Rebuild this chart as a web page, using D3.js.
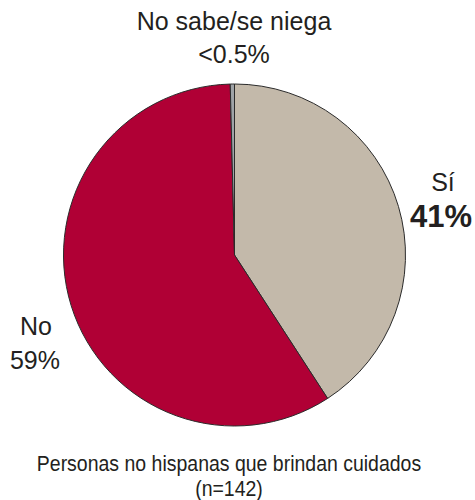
<!DOCTYPE html>
<html>
<head>
<meta charset="utf-8">
<script src="https://cdn.jsdelivr.net/npm/d3@7"></script>
<style>
  html, body { margin: 0; padding: 0; background: #fff; }
  svg { display: block; }
  text { font-family: "Liberation Sans", Arial, sans-serif; fill: #231f20; }
</style>
</head>
<body>
<svg id="chart" width="475" height="500"></svg>
<script>
// Caregiver answers, in drawing order (clockwise from 12 o'clock)
const categories = ["Sí", "No", "No sabe/se niega"];
const values = [41, 59, 0.4];
const valueLabels = ["41%", "59%", "<0.5%"];
const colors = ["#c3b9aa", "#b00035", "#9fa3a7"];
const caption = ["Personas no hispanas que brindan cuidados", "(n=142)"];

const svg = d3.select("#chart");
const cx = 234.5, cy = 255, r = 171;

const pie = d3.pie().sort(null).value(d => d)(values);
const arc = d3.arc().innerRadius(0).outerRadius(r);

const g = svg.append("g").attr("transform", `translate(${cx},${cy})`);
g.selectAll("path")
  .data(pie)
  .join("path")
  .attr("d", arc)
  .attr("fill", (d, i) => colors[i])
  .attr("stroke", "#2b2b2b")
  .attr("stroke-width", 1)
  .attr("stroke-linejoin", "round");

// Slice labels
const lab = svg.append("g");
// Sí
lab.append("text").attr("x", 443).attr("y", 191).attr("text-anchor", "middle")
  .attr("font-size", 25).text(categories[0]);
lab.append("text").attr("x", 441).attr("y", 227).attr("text-anchor", "middle")
  .attr("font-size", 31).attr("font-weight", "bold").attr("font-family", "'DejaVu Sans', sans-serif")
  .text(valueLabels[0]);
// No
lab.append("text").attr("x", 36).attr("y", 335).attr("text-anchor", "middle")
  .attr("font-size", 25).text(categories[1]);
lab.append("text").attr("x", 35).attr("y", 369).attr("text-anchor", "middle")
  .attr("font-size", 25).text(valueLabels[1]);
// No sabe / se niega
lab.append("text").attr("x", 234).attr("y", 30).attr("text-anchor", "middle")
  .attr("font-size", 25).text(categories[2]);
lab.append("text").attr("x", 234).attr("y", 63).attr("text-anchor", "middle")
  .attr("font-size", 25).text(valueLabels[2]);

// Caption, condensed
const cap = svg.append("g").attr("transform", "translate(229,0) scale(0.886,1)");
cap.append("text").attr("x", 0).attr("y", 471).attr("text-anchor", "middle")
  .attr("font-size", 22).text(caption[0]);
cap.append("text").attr("x", 0).attr("y", 496).attr("text-anchor", "middle")
  .attr("font-size", 22).text(caption[1]);
</script>
</body>
</html>
